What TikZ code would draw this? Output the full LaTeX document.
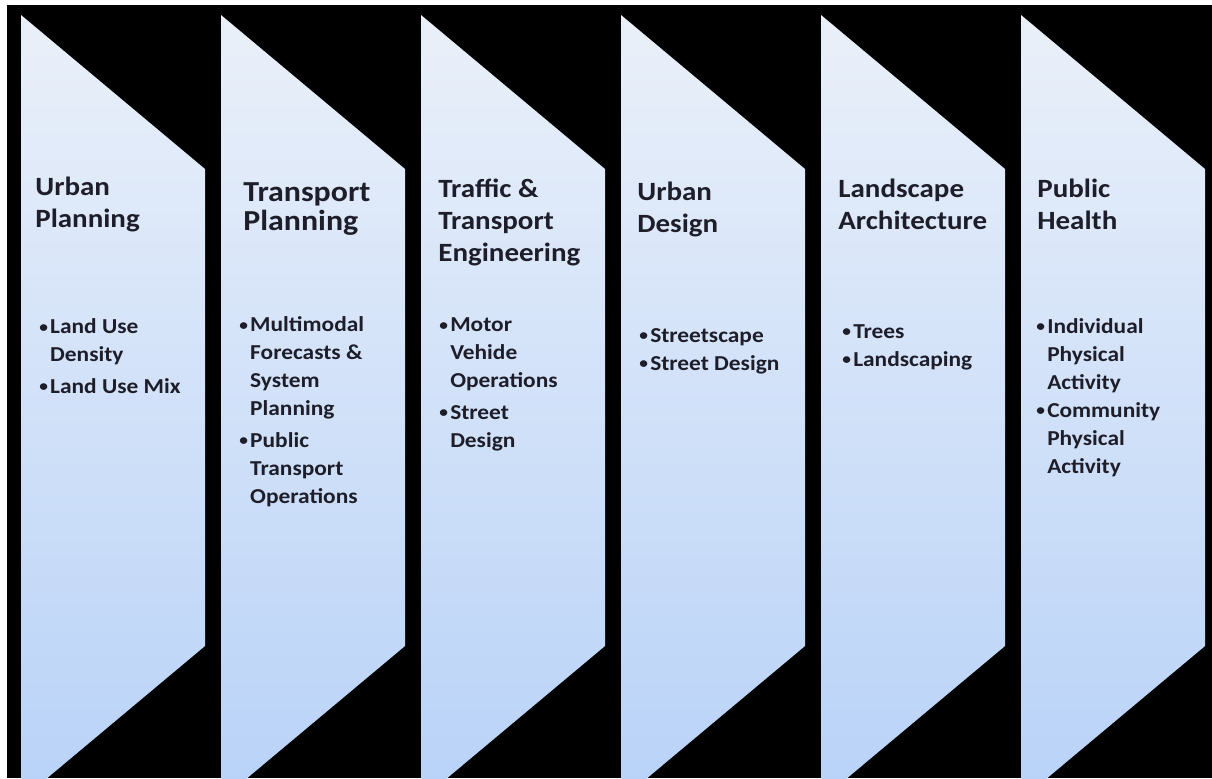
\documentclass[tikz,border=0pt]{standalone}
\usepackage{fontspec}
\setmainfont{Carlito}[FakeStretch=1.1]
\usepackage{xcolor}

\definecolor{ink}{RGB}{30,30,42}
\definecolor{paneltop}{RGB}{234,240,249}
\definecolor{panelbottom}{RGB}{184,210,248}

\newcommand{\bul}{\makebox[6.2pt][l]{\raisebox{0.8pt}{\fontsize{9pt}{9pt}\selectfont\textbullet}}}
\newcommand{\ind}{\hspace*{6.2pt}}

\begin{document}
\begin{tikzpicture}[
        x=0.02cm, y=-0.02cm,
        title/.style={anchor=base west, inner sep=0pt, align=left, text=ink, font=\bfseries\fontsize{15pt}{18.1pt}\selectfont},
        items/.style={anchor=base west, inner sep=0pt, align=left, text=ink, font=\bfseries\fontsize{12.1pt}{15.9pt}\selectfont}
    ]
        \useasboundingbox (0,0) rectangle (1212,778);

        % Background
        \fill[white] (0,0) rectangle (1212,778);
        \fill[black] (7,5) rectangle (1212,778);

        % Panels
        \begin{scope}
            \clip (0,0) rectangle (1212,778);
            \foreach \x in {21,221,421,621,821,1021}
                \shade[top color=paneltop, bottom color=panelbottom] (\x,15) -- (\x+184,169) -- (\x+184,646) -- (\x,800) -- cycle;
        \end{scope}

        % Titles (anchored at the baseline of the last line)
        \node[title] (urban) at (35,227) {Urban\\Planning};
        \node[title, font=\bfseries\fontsize{16.5pt}{16.4pt}\selectfont] (transport) at (243,230) {Transport\\Planning};
        \node[title] (traffic) at (438,261) {Traffic \&\\Transport\\Engineering};
        \node[title] (design) at (637,232) {Urban\\Design};
        \node[title] (landscape) at (838,229) {Landscape\\Architecture};
        \node[title] (health) at (1037,229) {Public\\Health};

        % Bullet lists
        \node[items] (urbanlist) at (39,393) {\bul Land Use\\\ind Density\\[2pt]\bul Land Use Mix};
        \node[items] (transportlist) at (239,503) {\bul Multimodal\\\ind Forecasts \&\\\ind System\\\ind Planning\\[2pt]\bul Public\\\ind Transport\\\ind Operations};
        \node[items] (trafficlist) at (439,447) {\bul Motor\\\ind Vehide\\\ind Operations\\[2pt]\bul Street\\\ind Design};
        \node[items] (designlist) at (639,370) {\bul Streetscape\\\bul Street Design};
        \node[items] (landscapelist) at (842,366) {\bul Trees\\\bul Landscaping};
        \node[items] (healthlist) at (1036,473) {\bul Individual\\\ind Physical\\\ind Activity\\\bul Community\\\ind Physical\\\ind Activity};
    \end{tikzpicture}
\end{document}
